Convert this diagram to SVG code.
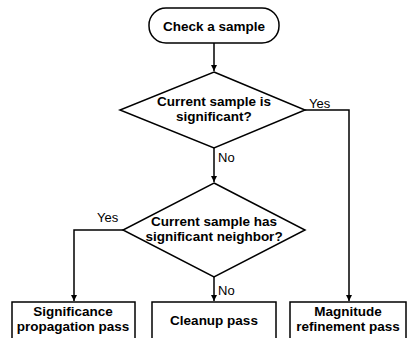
<svg xmlns="http://www.w3.org/2000/svg" width="408" height="338" viewBox="0 0 408 338">
<style>
.s{fill:#fff;stroke:#000;stroke-width:1.5}
.t{font-family:"Liberation Sans",Arial,sans-serif;font-weight:bold;font-size:13.5px;text-anchor:middle;fill:#000}
.l{font-family:"Liberation Sans",Arial,sans-serif;font-size:13px;fill:#000}
.c{fill:none;stroke:#000;stroke-width:1.5}
</style>
<defs>
<marker id="a" viewBox="0 0 10 10" refX="10" refY="5" markerWidth="6" markerHeight="8" orient="auto" markerUnits="userSpaceOnUse">
<path d="M0,0 L10,5 L0,10 z" fill="#000"/>
</marker>
</defs>
<rect width="408" height="338" fill="#fff"/>
<g id="connectors">
<path class="c" d="M214,43 V71" marker-end="url(#a)"/>
<path class="c" d="M214,148 V182" marker-end="url(#a)"/>
<path class="c" d="M305,110 H349 V301" marker-end="url(#a)"/>
<path class="c" d="M123,230 H74 V301" marker-end="url(#a)"/>
<path class="c" d="M214,277 V301" marker-end="url(#a)"/>
<text class="l" x="309" y="108">Yes</text>
<text class="l" x="218" y="162">No</text>
<text class="l" x="97" y="222">Yes</text>
<text class="l" x="218" y="295">No</text>
</g>
<g id="start">
<rect class="s" x="149" y="8" width="130" height="35" rx="17"/>
<text class="t" x="214" y="31">Check a sample</text>
</g>
<g id="decision1">
<path class="s" d="M214,72 L305,110 L214,148 L120,110 Z"/>
<text class="t" x="214" y="106">Current sample is</text>
<text class="t" x="214" y="121">significant?</text>
</g>
<g id="decision2">
<path class="s" d="M214,183 L305,230 L214,277 L123,230 Z"/>
<text class="t" x="214" y="226">Current sample has</text>
<text class="t" x="214" y="241">significant neighbor?</text>
</g>
<g id="sig">
<rect class="s" x="12" y="302" width="123" height="50"/>
<text class="t" x="73" y="316">Significance</text>
<text class="t" x="73" y="331">propagation pass</text>
</g>
<g id="cleanup">
<rect class="s" x="152" y="302" width="124" height="50"/>
<text class="t" x="214" y="325">Cleanup pass</text>
</g>
<g id="mag">
<rect class="s" x="290" y="302" width="116" height="50"/>
<text class="t" x="348" y="316">Magnitude</text>
<text class="t" x="348" y="331">refinement pass</text>
</g>
</svg>
